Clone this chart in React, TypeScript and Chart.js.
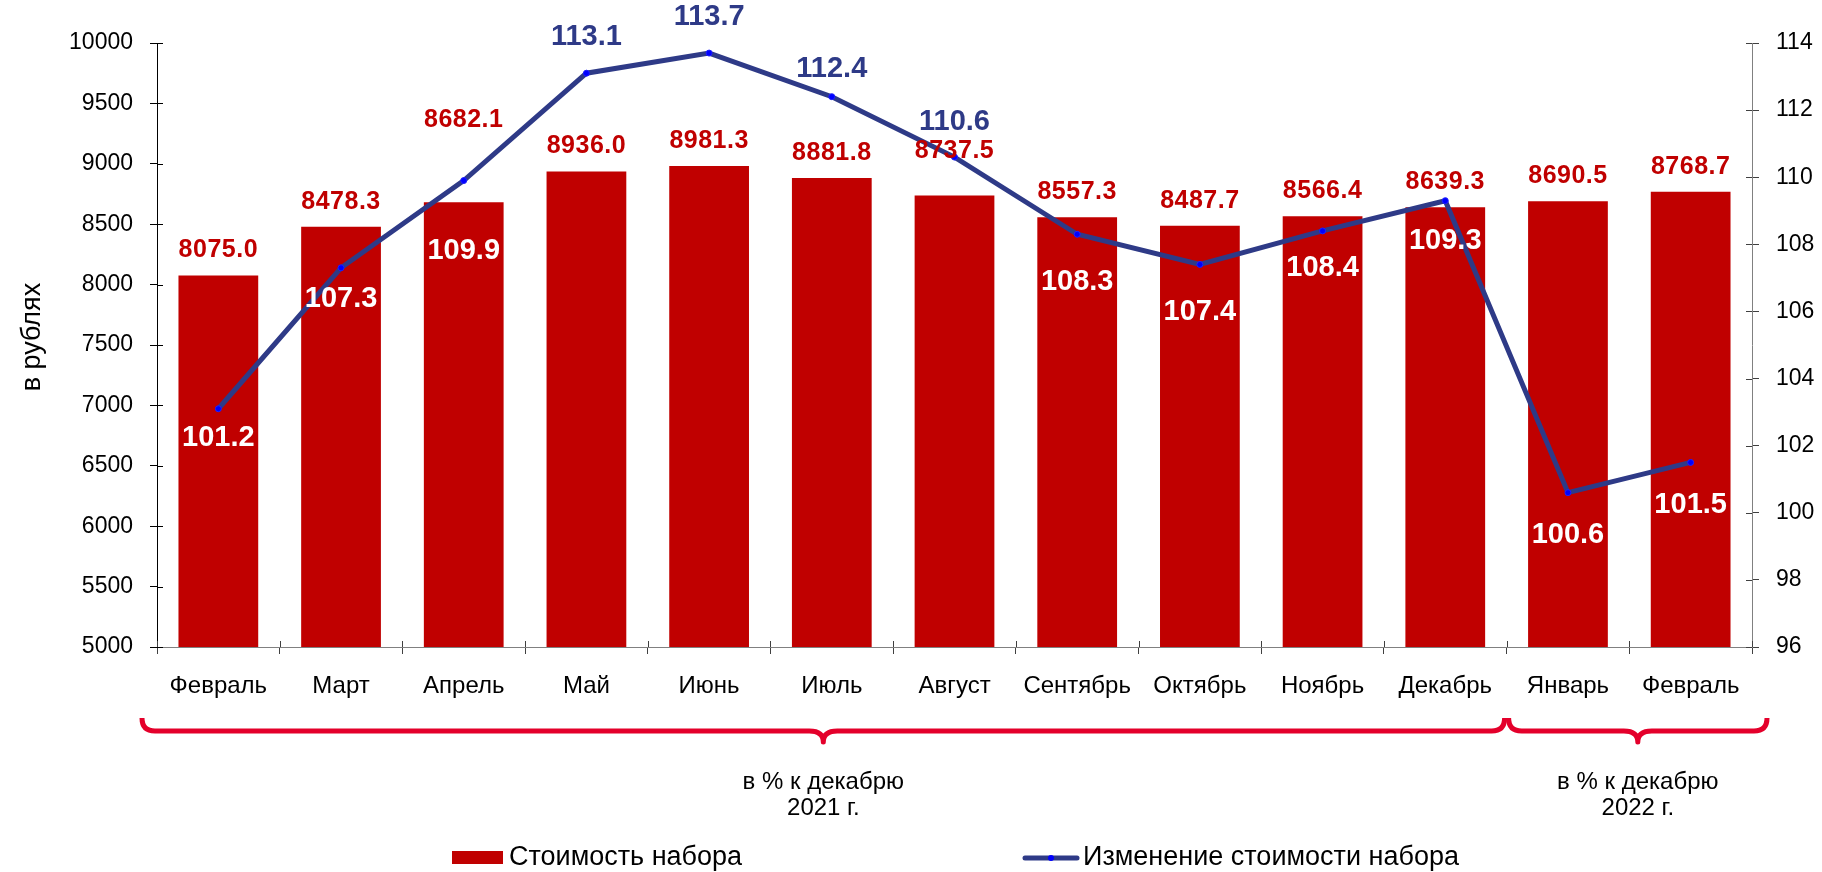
import React, { useEffect, useRef } from 'react';
import { Chart, registerables } from 'chart.js';

Chart.register(...registerables);

const categories = ['Февраль', 'Март', 'Апрель', 'Май', 'Июнь', 'Июль', 'Август', 'Сентябрь', 'Октябрь', 'Ноябрь', 'Декабрь', 'Январь', 'Февраль'];
const costValues = [8075.0, 8478.3, 8682.1, 8936.0, 8981.3, 8881.8, 8737.5, 8557.3, 8487.7, 8566.4, 8639.3, 8690.5, 8768.7];
// line positions as plotted in the picture (first point sits higher than its label says)
const changeValues = [103.1, 107.3, 109.9, 113.1, 113.7, 112.4, 110.6, 108.3, 107.4, 108.4, 109.3, 100.6, 101.5];
// printed labels of the line
const changeLabelTexts = ['101.2', '107.3', '109.9', '113.1', '113.7', '112.4', '110.6', '108.3', '107.4', '108.4', '109.3', '100.6', '101.5'];
const costLabel = 'Стоимость набора';
const changeLabel = 'Изменение стоимости набора';
const yAxisTitle = 'в рублях';
const leftTicks = { min: 5000, max: 10000, step: 500 };
const rightTicks = { min: 96, max: 114, step: 2 };
const braceGroups = [
  { from: 0, to: 10, lines: ['в % к декабрю', '2021 г.'] },
  { from: 11, to: 12, lines: ['в % к декабрю', '2022 г.'] },
];

// label placement (px) — layout only
const barLabelLift = [25, 25, 82, 25, 25, 25, 44, 25, 25, 25, 25, 25, 25];
const changeLabelShift = [29, 31, 70, -36, -36, -28, -35, 48, 48, 37, 40, 42, 43];

const FONT = '"Liberation Sans", Arial, sans-serif';
const BAR_COLOR = '#C00000';
const LINE_COLOR = '#2E3A87';
const POINT_COLOR = '#0000FF';
const BRACE_COLOR = '#E4002B';

function drawBrace(ctx: CanvasRenderingContext2D, x1: number, x2: number, yTop: number, yLine: number, yTip: number) {
  const r = yLine - yTop;
  const mid = (x1 + x2) / 2;
  const w = 14;
  ctx.beginPath();
  ctx.moveTo(x1, yTop);
  ctx.quadraticCurveTo(x1, yLine, x1 + r, yLine);
  ctx.lineTo(mid - w, yLine);
  ctx.quadraticCurveTo(mid, yLine, mid, yTip);
  ctx.quadraticCurveTo(mid, yLine, mid + w, yLine);
  ctx.lineTo(x2 - r, yLine);
  ctx.quadraticCurveTo(x2, yLine, x2, yTop);
  ctx.stroke();
}

const overlayPlugin = {
  id: 'overlay',
  afterDatasetsDraw(chart: any) {
    const ctx: CanvasRenderingContext2D = chart.ctx;
    const barMeta = chart.getDatasetMeta(0);
    const lineMeta = chart.getDatasetMeta(1);
    ctx.save();
    ctx.textAlign = 'center';
    ctx.textBaseline = 'middle';
    ctx.font = `bold 25px ${FONT}`;
    (ctx as any).letterSpacing = '0.5px';
    ctx.fillStyle = BAR_COLOR;
    barMeta.data.forEach((el: any, i: number) => {
      ctx.fillText(costValues[i].toFixed(1), el.x, el.y - barLabelLift[i]);
    });
    (ctx as any).letterSpacing = '0px';
    ctx.font = `bold 29px ${FONT}`;
    lineMeta.data.forEach((el: any, i: number) => {
      const dy = changeLabelShift[i];
      ctx.fillStyle = dy < 0 ? LINE_COLOR : '#FFFFFF';
      ctx.fillText(changeLabelTexts[i], el.x, el.y + dy);
    });
    ctx.restore();
  },
  afterDraw(chart: any) {
    const ctx: CanvasRenderingContext2D = chart.ctx;
    const xs = chart.scales.x;
    const ys = chart.scales.y;
    const y1 = chart.scales.y1;
    const area = chart.chartArea;
    ctx.save();
    // inward halves of crossing tick marks
    ctx.lineWidth = 1;
    ctx.strokeStyle = '#000';
    ys.ticks.forEach((_t: any, i: number) => {
      const y = Math.round(ys.getPixelForTick(i)) + 0.5;
      ctx.beginPath();
      ctx.moveTo(area.left, y);
      ctx.lineTo(area.left + 6, y);
      ctx.stroke();
    });
    ctx.strokeStyle = '#404040';
    y1.ticks.forEach((_t: any, i: number) => {
      const y = Math.round(y1.getPixelForTick(i)) + 0.5;
      ctx.beginPath();
      ctx.moveTo(area.right, y);
      ctx.lineTo(area.right - 6, y);
      ctx.stroke();
    });
    const cw = xs.getPixelForValue(1) - xs.getPixelForValue(0);
    for (let i = 0; i <= categories.length; i++) {
      const x = Math.round(xs.getPixelForValue(0) - cw / 2 + i * cw) + 0.5;
      ctx.beginPath();
      ctx.moveTo(x, area.bottom);
      ctx.lineTo(x, area.bottom - 6);
      ctx.stroke();
    }

    // y axis title
    ctx.save();
    ctx.translate(33, (area.top + area.bottom) / 2 - 8);
    ctx.rotate(-Math.PI / 2);
    ctx.fillStyle = '#000';
    ctx.font = `27px ${FONT}`;
    ctx.textAlign = 'center';
    ctx.textBaseline = 'middle';
    ctx.fillText(yAxisTitle, 0, 0);
    ctx.restore();

    // braces
    ctx.strokeStyle = BRACE_COLOR;
    ctx.lineWidth = 5;
    ctx.lineCap = 'butt';
    ctx.lineJoin = 'round';
    const yLine = area.bottom + 84;
    const yTop = area.bottom + 71;
    const yTip = area.bottom + 95;
    braceGroups.forEach((g, gi) => {
      let x1 = xs.getPixelForValue(g.from) - cw / 2;
      let x2 = xs.getPixelForValue(g.to) + cw / 2;
      x1 += gi === 0 ? -15 : 2;
      x2 += gi === braceGroups.length - 1 ? 15 : -2;
      drawBrace(ctx, x1, x2, yTop, yLine, yTip);
      ctx.fillStyle = '#000';
      ctx.font = `24px ${FONT}`;
      ctx.textAlign = 'center';
      ctx.textBaseline = 'middle';
      const mid = (x1 + x2) / 2;
      g.lines.forEach((t, li) => ctx.fillText(t, mid, area.bottom + 135 + li * 26));
    });

    // legend
    const ly = 858;
    ctx.fillStyle = BAR_COLOR;
    ctx.fillRect(452, ly - 7, 51, 13);
    ctx.fillStyle = '#000';
    ctx.font = `27px ${FONT}`;
    ctx.textAlign = 'left';
    ctx.textBaseline = 'middle';
    ctx.fillText(costLabel, 509, ly);
    ctx.strokeStyle = LINE_COLOR;
    ctx.lineWidth = 5;
    ctx.lineCap = 'round';
    ctx.beginPath();
    ctx.moveTo(1025, ly);
    ctx.lineTo(1077, ly);
    ctx.stroke();
    ctx.fillStyle = POINT_COLOR;
    ctx.beginPath();
    ctx.arc(1051, ly, 3, 0, Math.PI * 2);
    ctx.fill();
    ctx.fillStyle = '#000';
    ctx.fillText(changeLabel, 1083, ly);
    ctx.restore();
  },
};

export default function App() {
  const canvasRef = useRef<HTMLCanvasElement | null>(null);

  useEffect(() => {
    const canvas = canvasRef.current;
    if (!canvas) return;
    const chart = new Chart(canvas, {
      type: 'bar',
      data: {
        labels: categories,
        datasets: [
          {
            type: 'bar',
            label: costLabel,
            data: costValues,
            backgroundColor: BAR_COLOR,
            yAxisID: 'y',
            barPercentage: 0.65,
            categoryPercentage: 1,
            order: 2,
          },
          {
            type: 'line',
            label: changeLabel,
            data: changeValues,
            yAxisID: 'y1',
            borderColor: LINE_COLOR,
            borderWidth: 5,
            tension: 0,
            pointRadius: 3,
            pointBorderWidth: 1,
            pointBackgroundColor: POINT_COLOR,
            pointBorderColor: '#2020FF',
            order: 1,
          } as any,
        ],
      },
      options: {
        responsive: false,
        animation: false,
        layout: { padding: { top: 43, left: 0, right: 0, bottom: 0 } },
        plugins: {
          legend: { display: false },
          tooltip: { enabled: false },
        },
        scales: {
          x: {
            grid: { display: true, drawOnChartArea: false, drawTicks: true, tickLength: 7, color: '#404040', offset: true },
            border: { display: true, color: '#808080' },
            ticks: { color: '#000', font: { family: FONT, size: 24 }, padding: 18, maxRotation: 0, autoSkip: false },
            afterFit(scale: any) { scale.height = 225; },
          },
          y: {
            position: 'left',
            min: leftTicks.min,
            max: leftTicks.max,
            ticks: { stepSize: leftTicks.step, color: '#000', font: { family: FONT, size: 23 }, padding: 17, callback: (v: any) => String(v) },
            grid: { drawOnChartArea: false, tickLength: 7, color: '#000' },
            border: { display: true, color: '#000' },
            afterFit(scale: any) { scale.width = 157; },
          },
          y1: {
            position: 'right',
            min: rightTicks.min,
            max: rightTicks.max,
            ticks: { stepSize: rightTicks.step, color: '#000', font: { family: FONT, size: 23 }, padding: 17, callback: (v: any) => String(v) },
            grid: { drawOnChartArea: false, tickLength: 7, color: '#404040' },
            border: { display: true, color: '#808080' },
            afterFit(scale: any) { scale.width = 70; },
          },
        },
      } as any,
      plugins: [overlayPlugin],
    });
    return () => chart.destroy();
  }, []);

  return (
    <div style={{ position: 'absolute', left: 0, top: 0, width: 1822, height: 872, background: '#fff' }}>
      <canvas ref={canvasRef} width={1822} height={872} />
    </div>
  );
}
